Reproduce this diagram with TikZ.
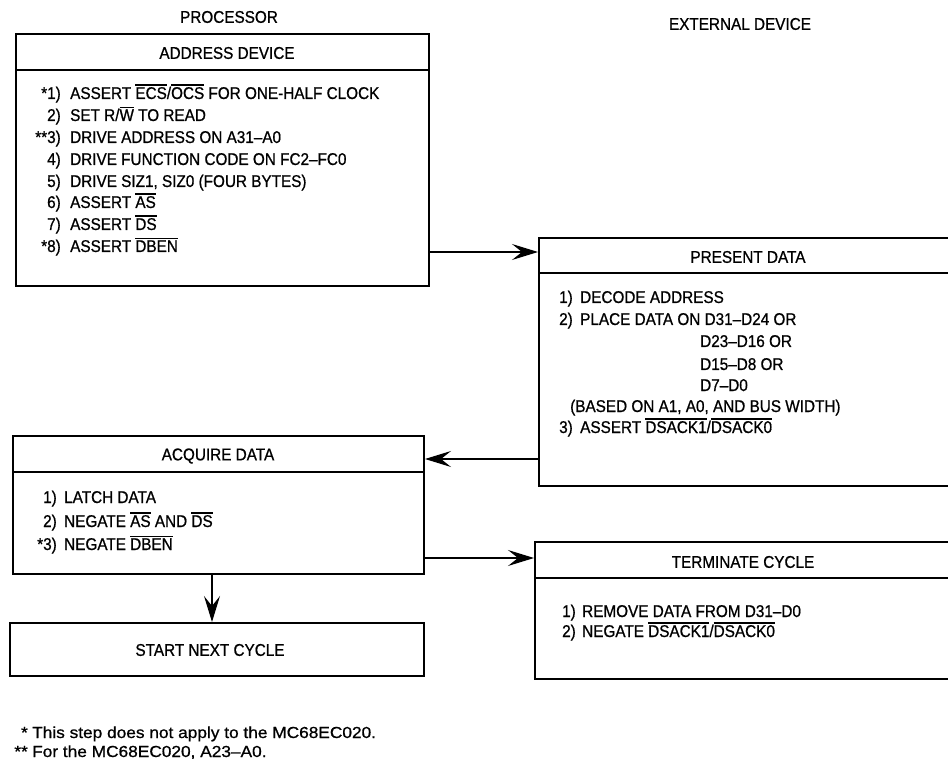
\documentclass[tikz,border=0pt]{standalone}
\usepackage{fontspec}
\setmainfont{Liberation Sans}[FakeStretch=0.9,FakeBold=0.8]
\newfontfamily\footf{Liberation Sans}[FakeStretch=1.08,FakeBold=0.8]
\usetikzlibrary{arrows.meta}
\newcommand\ovl[1]{{\setbox0\hbox{#1}\rlap{\rule[\dimexpr\ht0+1.6pt\relax]{\wd0}{1.1pt}}\box0}}
\tikzset{
  box/.style={draw, line width=2pt, rectangle, inner sep=0pt, anchor=north west},
  div/.style={line width=1.6pt},
  arr/.style={line width=1.4pt, -{Stealth[length=26pt,width=16pt,inset=10pt]}},
  txt/.style={inner sep=0pt, font=\fontsize{17}{20}\selectfont},
  foot/.style={inner sep=0pt, font=\footf\fontsize{16}{18}\selectfont},
}
\newcommand\itm[6]{%
  \node[txt,anchor=base east] (#1n) at (#2,#4) {#5};
  \node[txt,anchor=base west] (#1t) at (#3,#4) {#6};}
\begin{document}
\begin{tikzpicture}[x=1pt,y=-1pt]
\useasboundingbox (0,0) rectangle (948,759);
\clip (0,0) rectangle (948,759);

% titles
\node[txt] (proc) at (229,17) {PROCESSOR};
\node[txt] (ext) at (740,24) {EXTERNAL DEVICE};

% boxes
\node[box, minimum width=413pt, minimum height=252pt] (addr) at (15,33) {};
\node[box, minimum width=430pt, minimum height=248pt] (pres) at (538,237) {};
\node[box, minimum width=411pt, minimum height=138pt] (acq) at (12,435) {};
\node[box, minimum width=430pt, minimum height=137pt] (term) at (534,541) {};
\node[box, minimum width=414pt, minimum height=53pt] (start) at (9,622) {};

% header dividers
\coordinate (d1) at (0,70);
\coordinate (d2) at (0,273);
\coordinate (d3) at (0,472);
\coordinate (d4) at (0,578);
\draw[div] (addr.west |- d1) -- (addr.east |- d1);
\draw[div] (pres.west |- d2) -- (pres.east |- d2);
\draw[div] (acq.west |- d3) -- (acq.east |- d3);
\draw[div] (term.west |- d4) -- (term.east |- d4);

% headers
\node[txt] (h1) at (227,53) {ADDRESS DEVICE};
\node[txt] (h2) at (748,257) {PRESENT DATA};
\node[txt] (h3) at (218,456) {ACQUIRE DATA};
\node[txt] (h4) at (743,562) {TERMINATE CYCLE};
\node[txt] (h5) at (210,650) {START NEXT CYCLE};

% address device items
\itm{a1}{61}{70}{99}{*1)}{ASSERT \ovl{ECS}/\ovl{OCS} FOR ONE-HALF CLOCK}
\itm{a2}{61}{70}{121}{2)}{SET R/\ovl{W} TO READ}
\itm{a3}{61}{70}{143}{**3)}{DRIVE ADDRESS ON A31–A0}
\itm{a4}{61}{70}{165}{4)}{DRIVE FUNCTION CODE ON FC2–FC0}
\itm{a5}{61}{70}{187}{5)}{DRIVE SIZ1, SIZ0 (FOUR BYTES)}
\itm{a6}{61}{70}{208}{6)}{ASSERT \ovl{AS}}
\itm{a7}{61}{70}{230}{7)}{ASSERT \ovl{DS}}
\itm{a8}{61}{70}{252}{*8)}{ASSERT \ovl{DBEN}}

% present data items
\itm{p1}{573}{580}{303}{1)}{DECODE ADDRESS}
\itm{p2}{573}{580}{325}{2)}{PLACE DATA ON D31–D24 OR}
\node[txt,anchor=base west] (p2b) at (700,347) {D23–D16 OR};
\node[txt,anchor=base west] (p2c) at (700,370) {D15–D8 OR};
\node[txt,anchor=base west] (p2d) at (700,391) {D7–D0};
\node[txt,anchor=base west] (p2e) at (570,412) {(BASED ON A1, A0, AND BUS WIDTH)};
\itm{p3}{573}{580}{433}{3)}{ASSERT \ovl{DSACK1}/\ovl{DSACK0}}

% acquire data items
\itm{c1}{57}{64}{503}{1)}{LATCH DATA}
\itm{c2}{57}{64}{527}{2)}{NEGATE \ovl{AS} AND \ovl{DS}}
\itm{c3}{57}{64}{550}{*3)}{NEGATE \ovl{DBEN}}

% terminate cycle items
\itm{t1}{576}{582}{617}{1)}{REMOVE DATA FROM D31–D0}
\itm{t2}{576}{582}{637}{2)}{NEGATE \ovl{DSACK1}/\ovl{DSACK0}}

% connectors
\coordinate (y1) at (0,252);
\coordinate (y2) at (0,459);
\coordinate (y3) at (0,558);
\coordinate (x4) at (212,0);
\draw[arr] (addr.east |- y1) -- (pres.west |- y1);
\draw[arr] (pres.west |- y2) -- (acq.east |- y2);
\draw[arr] (acq.east |- y3) -- (term.west |- y3);
\draw[arr] (acq.south -| x4) -- (start.north -| x4);

% footnotes
\node[foot,anchor=base east] (f1s) at (28,738) {*};
\node[foot,anchor=base west] (f1) at (32,738) {This step does not apply to the MC68EC020.};
\node[foot,anchor=base east] (f2s) at (28,757) {**};
\node[foot,anchor=base west] (f2) at (32,757) {For the MC68EC020, A23–A0.};
\end{tikzpicture}
\end{document}
